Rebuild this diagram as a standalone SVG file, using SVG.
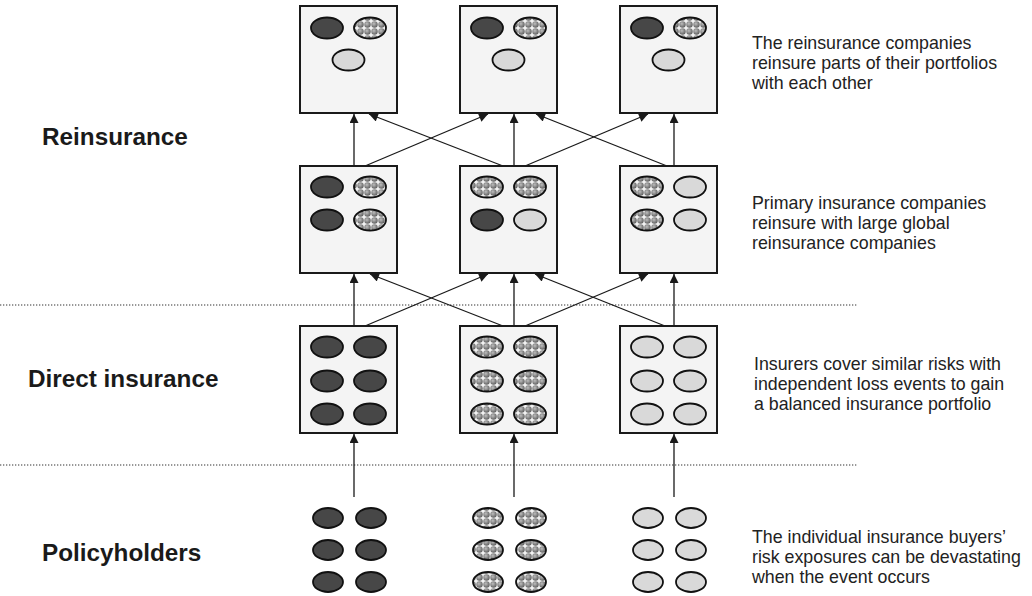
<svg xmlns="http://www.w3.org/2000/svg" width="1032" height="596" viewBox="0 0 1032 596">
  <style>
    .box { fill: #f4f4f4; stroke: #1a1a1a; stroke-width: 2; }
    .e { stroke: #111; stroke-width: 1.8; }
    .dark { fill: #474747; }
    .light { fill: #d9d9d9; }
    .pat { fill: url(#dots); }
    .conn { stroke: #1a1a1a; stroke-width: 1.3; fill: none; marker-end: url(#arrow); }
    .sep { stroke: #333; stroke-width: 1.2; stroke-dasharray: 1.3 1.7; }
    .label { font-family: "Liberation Sans", Arial, sans-serif; font-weight: bold; font-size: 24.3px; fill: #1a1a1a; }
    .note { font-family: "Liberation Sans", Arial, sans-serif; font-size: 17.8px; fill: #222; }
  </style>
  <defs>
    <radialGradient id="sphere" cx="0.4" cy="0.38" r="0.65">
      <stop offset="0" stop-color="#bdbdbd"/>
      <stop offset="1" stop-color="#5e5e5e"/>
    </radialGradient>
    <pattern id="dots" width="7" height="7" patternUnits="userSpaceOnUse">
      <rect width="7" height="7" fill="#f2f2f2"/>
      <circle cx="3.5" cy="3.5" r="3.2" fill="url(#sphere)"/>
    </pattern>
    <marker id="arrow" viewBox="0 0 10 10" refX="10" refY="5" markerWidth="10" markerHeight="9" markerUnits="userSpaceOnUse" orient="auto">
      <path d="M0,0 L10,5 L0,10 z" fill="#1a1a1a"/>
    </marker>
  </defs>

  <rect width="1032" height="596" fill="#ffffff"/>

  <!-- layer separators -->
  <g id="separators">
    <line class="sep" x1="0" y1="305" x2="858" y2="305"/>
    <line class="sep" x1="0" y1="465" x2="858" y2="465"/>
  </g>

  <!-- layer labels -->
  <g id="labels">
    <text class="label" x="42" y="145">Reinsurance</text>
    <text class="label" x="28" y="387">Direct insurance</text>
    <text class="label" x="42" y="561">Policyholders</text>
  </g>

  <!-- top row: global reinsurers -->
  <g id="reinsurer-1">
    <rect class="box" x="300" y="6" width="97" height="107"/>
    <ellipse class="e dark" cx="327" cy="28" rx="16" ry="10.5"/>
    <ellipse class="e pat" cx="370" cy="28" rx="16" ry="10.5"/>
    <ellipse class="e light" cx="348.5" cy="60" rx="16" ry="10.5"/>
  </g>
  <g id="reinsurer-2">
    <rect class="box" x="460" y="6" width="97" height="107"/>
    <ellipse class="e dark" cx="487" cy="28" rx="16" ry="10.5"/>
    <ellipse class="e pat" cx="530" cy="28" rx="16" ry="10.5"/>
    <ellipse class="e light" cx="508.5" cy="60" rx="16" ry="10.5"/>
  </g>
  <g id="reinsurer-3">
    <rect class="box" x="620" y="6" width="97" height="107"/>
    <ellipse class="e dark" cx="647" cy="28" rx="16" ry="10.5"/>
    <ellipse class="e pat" cx="690" cy="28" rx="16" ry="10.5"/>
    <ellipse class="e light" cx="668.5" cy="60" rx="16" ry="10.5"/>
  </g>

  <!-- middle row: primary insurers after reinsurance -->
  <g id="primary-1">
    <rect class="box" x="300" y="166" width="97" height="107"/>
    <ellipse class="e dark" cx="327" cy="187" rx="16" ry="10.5"/>
    <ellipse class="e pat" cx="370" cy="187" rx="16" ry="10.5"/>
    <ellipse class="e dark" cx="327" cy="220" rx="16" ry="10.5"/>
    <ellipse class="e pat" cx="370" cy="220" rx="16" ry="10.5"/>
  </g>
  <g id="primary-2">
    <rect class="box" x="460" y="166" width="97" height="107"/>
    <ellipse class="e pat" cx="487" cy="187" rx="16" ry="10.5"/>
    <ellipse class="e pat" cx="530" cy="187" rx="16" ry="10.5"/>
    <ellipse class="e dark" cx="487" cy="220" rx="16" ry="10.5"/>
    <ellipse class="e light" cx="530" cy="220" rx="16" ry="10.5"/>
  </g>
  <g id="primary-3">
    <rect class="box" x="620" y="166" width="97" height="107"/>
    <ellipse class="e pat" cx="647" cy="187" rx="16" ry="10.5"/>
    <ellipse class="e light" cx="690" cy="187" rx="16" ry="10.5"/>
    <ellipse class="e pat" cx="647" cy="220" rx="16" ry="10.5"/>
    <ellipse class="e light" cx="690" cy="220" rx="16" ry="10.5"/>
  </g>

  <!-- lower row: direct insurers -->
  <g id="insurer-1">
    <rect class="box" x="300" y="326" width="97" height="107"/>
    <ellipse class="e dark" cx="327" cy="347" rx="16" ry="10.5"/>
    <ellipse class="e dark" cx="370" cy="347" rx="16" ry="10.5"/>
    <ellipse class="e dark" cx="327" cy="381" rx="16" ry="10.5"/>
    <ellipse class="e dark" cx="370" cy="381" rx="16" ry="10.5"/>
    <ellipse class="e dark" cx="327" cy="414" rx="16" ry="10.5"/>
    <ellipse class="e dark" cx="370" cy="414" rx="16" ry="10.5"/>
  </g>
  <g id="insurer-2">
    <rect class="box" x="460" y="326" width="97" height="107"/>
    <ellipse class="e pat" cx="487" cy="347" rx="16" ry="10.5"/>
    <ellipse class="e pat" cx="530" cy="347" rx="16" ry="10.5"/>
    <ellipse class="e pat" cx="487" cy="381" rx="16" ry="10.5"/>
    <ellipse class="e pat" cx="530" cy="381" rx="16" ry="10.5"/>
    <ellipse class="e pat" cx="487" cy="414" rx="16" ry="10.5"/>
    <ellipse class="e pat" cx="530" cy="414" rx="16" ry="10.5"/>
  </g>
  <g id="insurer-3">
    <rect class="box" x="620" y="326" width="97" height="107"/>
    <ellipse class="e light" cx="647" cy="347" rx="16" ry="10.5"/>
    <ellipse class="e light" cx="690" cy="347" rx="16" ry="10.5"/>
    <ellipse class="e light" cx="647" cy="381" rx="16" ry="10.5"/>
    <ellipse class="e light" cx="690" cy="381" rx="16" ry="10.5"/>
    <ellipse class="e light" cx="647" cy="414" rx="16" ry="10.5"/>
    <ellipse class="e light" cx="690" cy="414" rx="16" ry="10.5"/>
  </g>

  <!-- bottom: individual policyholders' risks -->
  <g id="policyholders-1">
    <ellipse class="e dark" cx="328" cy="518" rx="15" ry="10"/>
    <ellipse class="e dark" cx="371" cy="518" rx="15" ry="10"/>
    <ellipse class="e dark" cx="328" cy="550" rx="15" ry="10"/>
    <ellipse class="e dark" cx="371" cy="550" rx="15" ry="10"/>
    <ellipse class="e dark" cx="328" cy="582" rx="15" ry="10"/>
    <ellipse class="e dark" cx="371" cy="582" rx="15" ry="10"/>
  </g>
  <g id="policyholders-2">
    <ellipse class="e pat" cx="488" cy="518" rx="15" ry="10"/>
    <ellipse class="e pat" cx="531" cy="518" rx="15" ry="10"/>
    <ellipse class="e pat" cx="488" cy="550" rx="15" ry="10"/>
    <ellipse class="e pat" cx="531" cy="550" rx="15" ry="10"/>
    <ellipse class="e pat" cx="488" cy="582" rx="15" ry="10"/>
    <ellipse class="e pat" cx="531" cy="582" rx="15" ry="10"/>
  </g>
  <g id="policyholders-3">
    <ellipse class="e light" cx="648" cy="518" rx="15" ry="10"/>
    <ellipse class="e light" cx="691" cy="518" rx="15" ry="10"/>
    <ellipse class="e light" cx="648" cy="550" rx="15" ry="10"/>
    <ellipse class="e light" cx="691" cy="550" rx="15" ry="10"/>
    <ellipse class="e light" cx="648" cy="582" rx="15" ry="10"/>
    <ellipse class="e light" cx="691" cy="582" rx="15" ry="10"/>
  </g>

  <!-- connectors -->
  <g id="connectors">
    <!-- policyholders to direct insurers -->
    <line class="conn" x1="354" y1="497" x2="354" y2="434"/>
    <line class="conn" x1="514" y1="497" x2="514" y2="434"/>
    <line class="conn" x1="674" y1="497" x2="674" y2="434"/>
    <!-- direct insurers to primary layer -->
    <line class="conn" x1="354" y1="326" x2="354" y2="274"/>
    <line class="conn" x1="514" y1="326" x2="514" y2="274"/>
    <line class="conn" x1="674" y1="326" x2="674" y2="274"/>
    <line class="conn" x1="365" y1="326" x2="488" y2="274"/>
    <line class="conn" x1="503" y1="326" x2="370" y2="274"/>
    <line class="conn" x1="525" y1="326" x2="648" y2="274"/>
    <line class="conn" x1="665" y1="326" x2="535" y2="274"/>
    <!-- primary layer to reinsurers -->
    <line class="conn" x1="354" y1="166" x2="354" y2="114"/>
    <line class="conn" x1="514" y1="166" x2="514" y2="114"/>
    <line class="conn" x1="674" y1="166" x2="674" y2="114"/>
    <line class="conn" x1="365" y1="166" x2="488" y2="114"/>
    <line class="conn" x1="503" y1="166" x2="369" y2="114"/>
    <line class="conn" x1="525" y1="166" x2="648" y2="114"/>
    <line class="conn" x1="667" y1="166" x2="536" y2="114"/>
  </g>

  <!-- explanatory notes -->
  <g id="notes">
    <text class="note" x="752" y="49">The reinsurance companies</text>
    <text class="note" x="752" y="69">reinsure parts of their portfolios</text>
    <text class="note" x="752" y="89">with each other</text>
    <text class="note" x="752" y="209">Primary insurance companies</text>
    <text class="note" x="752" y="229">reinsure with large global</text>
    <text class="note" x="752" y="249">reinsurance companies</text>
    <text class="note" x="754" y="370">Insurers cover similar risks with</text>
    <text class="note" x="754" y="390">independent loss events to gain</text>
    <text class="note" x="754" y="410">a balanced insurance portfolio</text>
    <text class="note" x="752" y="543">The individual insurance buyers’</text>
    <text class="note" x="752" y="563">risk exposures can be devastating</text>
    <text class="note" x="752" y="583">when the event occurs</text>
  </g>
</svg>
